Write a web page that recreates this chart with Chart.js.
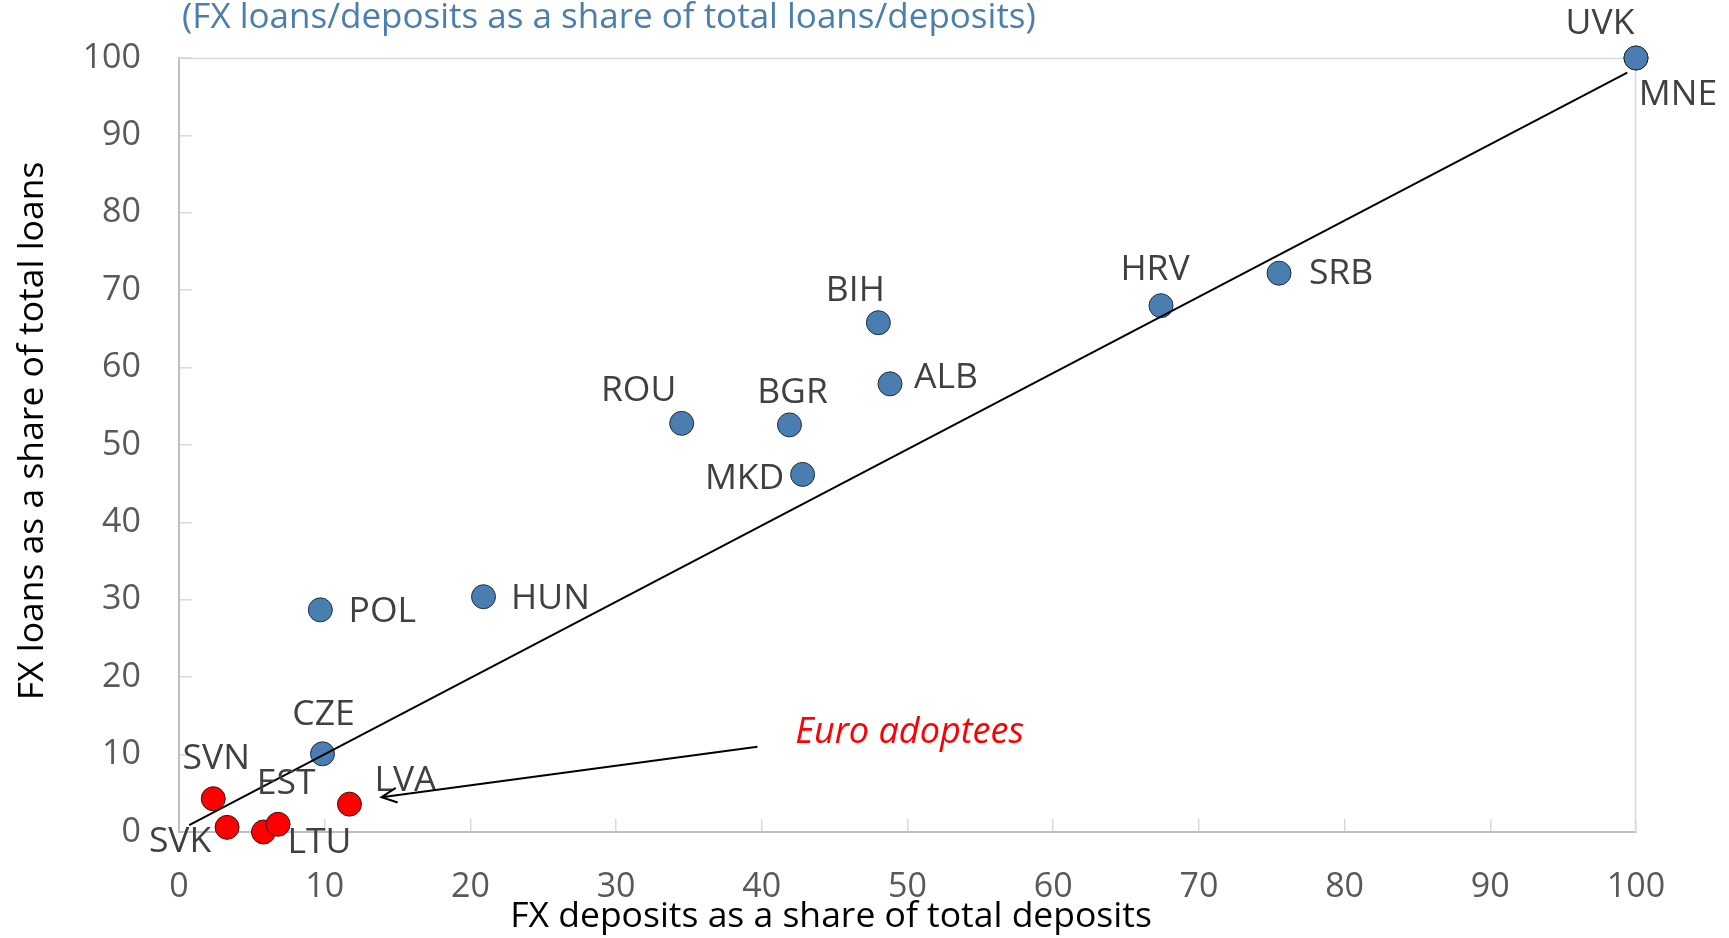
<!DOCTYPE html>
<html lang="en">
<head>
  <meta charset="UTF-8">
  <title>FX loans vs FX deposits</title>
  <script src="https://cdn.jsdelivr.net/npm/chart.js"></script>
  <style>
    html, body { margin: 0; padding: 0; background: #fff; }
    .chart-box { width: 1729px; height: 938px; }
  </style>
</head>
<body>
  <div class="chart-box">
    <canvas id="fxChart" width="1729" height="938"></canvas>
  </div>

  <script>
    // Countries outside the euro area
    const countries = ['UVK', 'MNE', 'SRB', 'HRV', 'BIH', 'ALB', 'ROU', 'BGR', 'MKD', 'HUN', 'POL', 'CZE'];
    const depositShare = [100, 100, 75.5, 67.4, 48.0, 48.8, 34.5, 41.9, 42.8, 20.9, 9.7, 9.85];
    const loanShare = [100, 100, 72.2, 68.0, 65.8, 57.9, 52.8, 52.6, 46.2, 30.4, 28.7, 10.1];

    // Euro adoptees
    const euroCountries = ['SVN', 'SVK', 'LTU', 'EST', 'LVA'];
    const euroDepositShare = [2.35, 3.3, 5.8, 6.8, 11.7];
    const euroLoanShare = [4.3, 0.6, 0.0, 1.0, 3.6];

    // Fitted line (start and end)
    const trendX = [0.7, 99.4];
    const trendY = [0.9, 98.1];

    // Tick labels
    const xTicks = [0, 10, 20, 30, 40, 50, 60, 70, 80, 90, 100];
    const yTicks = [0, 10, 20, 30, 40, 50, 60, 70, 80, 90, 100];

    // Annotation: arrow from the note to LVA
    const noteText = 'Euro adoptees';
    const noteAt = [42.3, 12.8];
    const arrowFrom = [39.7, 11.0];
    const arrowTo = [13.9, 4.5];

    // Label placement, pixels from the marker centre
    const labelOffset = {
      UVK: [-36, -34], MNE: [42, 37], SRB: [62, 1], HRV: [-6, -36],
      BIH: [-23, -32], ALB: [56, -6], ROU: [-43, -32], BGR: [3, -32],
      MKD: [-58, 4], HUN: [67, 2], POL: [62, 2], CZE: [1, -39],
      SVN: [3, -40], EST: [8, -40], LVA: [56, -23], SVK: [-47, 15], LTU: [56, 11]
    };

    const FONT = "'Open Sans', sans-serif";
    const BLUE = '#4a7eb0';

    const toPoints = (xs, ys) => xs.map((x, i) => ({ x: x, y: ys[i] }));

    // Draws the frame, point labels, the note/arrow and the titles
    const decorPlugin = {
      id: 'decor',
      beforeDatasetsDraw(chart) {
        const { ctx, chartArea: a } = chart;
        ctx.save();
        ctx.strokeStyle = '#d9d9d9';
        ctx.lineWidth = 1.5;
        ctx.beginPath();
        ctx.moveTo(a.left, a.top + 0.5);
        ctx.lineTo(a.right - 0.5, a.top + 0.5);
        ctx.lineTo(a.right - 0.5, a.bottom);
        ctx.stroke();
        ctx.restore();
      },
      afterDatasetsDraw(chart) {
        const { ctx, scales: { x, y } } = chart;
        ctx.save();

        // point labels
        ctx.font = '35.5px ' + FONT;
        ctx.fillStyle = '#404040';
        ctx.textAlign = 'center';
        ctx.textBaseline = 'middle';
        const putLabels = (names, xs, ys) => {
          names.forEach((n, i) => {
            const off = labelOffset[n] || [0, 0];
            ctx.fillText(n, x.getPixelForValue(xs[i]) + off[0], y.getPixelForValue(ys[i]) + off[1]);
          });
        };
        putLabels(countries, depositShare, loanShare);
        putLabels(euroCountries, euroDepositShare, euroLoanShare);

        // arrow
        const x1 = x.getPixelForValue(arrowFrom[0]), y1 = y.getPixelForValue(arrowFrom[1]);
        const x2 = x.getPixelForValue(arrowTo[0]), y2 = y.getPixelForValue(arrowTo[1]);
        const ang = Math.atan2(y2 - y1, x2 - x1);
        ctx.strokeStyle = '#000';
        ctx.lineWidth = 2;
        ctx.beginPath();
        ctx.moveTo(x1, y1);
        ctx.lineTo(x2, y2);
        ctx.moveTo(x2 - 17 * Math.cos(ang - 0.45), y2 - 17 * Math.sin(ang - 0.45));
        ctx.lineTo(x2, y2);
        ctx.lineTo(x2 - 17 * Math.cos(ang + 0.45), y2 - 17 * Math.sin(ang + 0.45));
        ctx.stroke();

        // note
        ctx.font = 'italic 36px ' + FONT;
        ctx.fillStyle = '#ff0000';
        ctx.textAlign = 'left';
        ctx.fillText(noteText, x.getPixelForValue(noteAt[0]), y.getPixelForValue(noteAt[1]));

        // header
        ctx.font = '35px ' + FONT;
        ctx.fillStyle = BLUE;
        ctx.fillText('(FX loans/deposits as a share of total loans/deposits)', 182, 18);

        // axis titles
        ctx.font = '35.5px ' + FONT;
        ctx.fillStyle = '#000';
        ctx.textAlign = 'center';
        ctx.fillText('FX deposits as a share of total deposits', 831, 917);
        ctx.translate(33, 431);
        ctx.rotate(-Math.PI / 2);
        ctx.fillText('FX loans as a share of total loans', 0, 0);

        ctx.restore();
      }
    };

    const ctx = document.getElementById('fxChart').getContext('2d');
    new Chart(ctx, {
      type: 'scatter',
      data: {
        datasets: [
          {
            type: 'line',
            label: 'Fit',
            data: toPoints(trendX, trendY),
            borderColor: '#000',
            borderWidth: 2,
            pointRadius: 0,
            fill: false,
            clip: false,
            order: 0
          },
          {
            label: 'Non-euro',
            data: toPoints(depositShare, loanShare),
            backgroundColor: BLUE,
            borderColor: '#1f2f40',
            borderWidth: 1,
            pointRadius: 12,
            clip: false,
            order: 2
          },
          {
            label: 'Euro adoptees',
            data: toPoints(euroDepositShare, euroLoanShare),
            backgroundColor: '#ff0000',
            borderColor: '#3a1010',
            borderWidth: 1,
            pointRadius: 12,
            clip: false,
            order: 1
          }
        ]
      },
      options: {
        responsive: false,
        animation: false,
        layout: { padding: { left: 0, right: 93, top: 58, bottom: 0 } },
        plugins: {
          legend: { display: false },
          tooltip: { enabled: false }
        },
        scales: {
          x: {
            type: 'linear',
            min: 0,
            max: 100,
            afterFit: s => { s.height = 106; },
            afterBuildTicks: s => { s.ticks = xTicks.map(v => ({ value: v })); },
            grid: { drawOnChartArea: false, drawTicks: true, tickLength: -13, color: '#d9d9d9', lineWidth: 1.5 },
            border: { color: '#bfbfbf', width: 2 },
            ticks: { font: { family: FONT, size: 34 }, color: '#595959', padding: 48, maxRotation: 0 }
          },
          y: {
            type: 'linear',
            min: 0,
            max: 100,
            // fixed axis width; tick padding should not push the plot down
            afterFit: s => { s.width = 179; s.paddingTop = 0; s.paddingBottom = 0; },
            afterBuildTicks: s => { s.ticks = yTicks.map(v => ({ value: v })); },
            grid: { drawOnChartArea: false, drawTicks: true, tickLength: -13, color: '#d9d9d9', lineWidth: 1.5 },
            border: { color: '#bfbfbf', width: 2 },
            ticks: { font: { family: FONT, size: 34 }, color: '#595959', padding: 51 }
          }
        }
      },
      plugins: [decorPlugin]
    });
  </script>
</body>
</html>
